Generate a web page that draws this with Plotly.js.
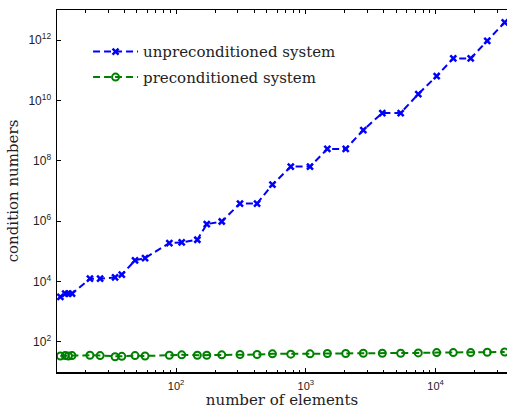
<!DOCTYPE html>
<html>
<head>
<meta charset="utf-8">
<script src="https://cdn.plot.ly/plotly-3.0.1.min.js"></script>
<style>html,body{margin:0;padding:0;background:#fff;}#chart{width:507px;height:409px;}</style>
</head>
<body>
<div id="chart"></div>
<script>
var elements = [12.85, 14.0, 14.8, 15.8, 21.7, 26.0, 33.9, 38.2, 48.3, 57.7, 88.8, 110.6, 145.9, 172.5, 225,
  311, 421, 553, 766, 1077, 1465, 2029, 2772, 3884, 5380, 7355, 10190, 13680, 18630, 24990, 34050];
var unpreconditioned = [3080, 3960, 3960, 3960, 12400, 12400, 13700, 16800, 50000, 60000, 188000, 197000, 242000, 800000, 975000,
  3.85e6, 3.85e6, 1.63e7, 6.44e7, 6.44e7, 2.48e8, 2.48e8, 1.05e9, 3.85e9, 3.85e9, 1.64e10, 6.46e10, 2.48e11, 2.48e11, 9.5e11, 3.9e12];
var preconditioned = [34, 35, 34, 35, 36, 35, 32, 33, 35, 34, 36, 37, 36, 36, 37,
  38, 38, 40, 39, 40, 41, 41, 42, 42, 42, 43, 44, 44, 44, 45, 46];
var seriesNames = ['unpreconditioned system', 'preconditioned system'];
var xMajor = [100, 1000, 10000];
var xMajorText = ['10<sup>2</sup>', '10<sup>3</sup>', '10<sup>4</sup>'];
var yMajor = [1e2, 1e4, 1e6, 1e8, 1e10, 1e12];
var yMajorText = ['10<sup>2</sup>', '10<sup>4</sup>', '10<sup>6</sup>', '10<sup>8</sup>', '10<sup>10</sup>', '10<sup>12</sup>'];

var xMinor = [];
[10, 100, 1000, 10000].forEach(function (d) { for (var k = 2; k <= 9; k++) xMinor.push(k * d); });

var serif = 'DejaVu Serif, Liberation Serif, serif';
var sans = 'Liberation Sans, Arial, sans-serif';

var traces = [
  {x: elements, y: unpreconditioned, name: seriesNames[0], legendgroup: 'a', type: 'scatter', mode: 'lines+markers',
   line: {color: '#0000ff', width: 2, dash: '7px,4px'},
   marker: {symbol: 'x-thin', size: 6, color: '#0000ff', line: {color: '#0000ff', width: 2.5}}},
  {x: elements, y: preconditioned, name: seriesNames[1], legendgroup: 'b', type: 'scatter', mode: 'lines+markers',
   line: {color: '#008000', width: 2, dash: '7px,4px'},
   marker: {symbol: 'circle-open', size: 7, color: '#008000', line: {color: '#008000', width: 2}}}
];

var layout = {
  width: 507, height: 409,
  margin: {l: 57, r: 0, t: 10, b: 37, pad: 0},
  paper_bgcolor: '#fff', plot_bgcolor: '#fff',
  showlegend: true,
  legend: {x: 0.069, y: 0.93, xanchor: 'left', yanchor: 'top', bgcolor: 'rgba(0,0,0,0)',
           traceorder: 'grouped', tracegroupgap: 3,
           font: {family: serif, size: 15, color: '#222'}, itemwidth: 45},
  xaxis: {type: 'log', range: [Math.log10(12.1), 4.55], showgrid: false, zeroline: false,
          showline: true, linecolor: '#000', linewidth: 1.5, mirror: 'ticks',
          ticks: 'inside', ticklen: 4, tickwidth: 1, tickcolor: '#000',
          tickmode: 'array', tickvals: xMajor, ticktext: xMajorText, ticklabelstandoff: 3,
          tickfont: {family: sans, size: 11, color: '#222'},
          minor: {ticks: 'inside', ticklen: 2.5, tickwidth: 1, tickcolor: '#000', tickmode: 'array', tickvals: xMinor},
          title: {text: 'number of elements', font: {family: serif, size: 15, color: '#222'}, standoff: 8}},
  yaxis: {type: 'log', range: [1, 13], showgrid: false, zeroline: false,
          showline: true, linecolor: '#000', linewidth: 1.5, mirror: false,
          ticks: 'inside', ticklen: 4, tickwidth: 1, tickcolor: '#000',
          tickmode: 'array', tickvals: yMajor, ticktext: yMajorText, ticklabelstandoff: 2,
          tickfont: {family: sans, size: 12, color: '#222'},
          title: {text: 'condition numbers', font: {family: serif, size: 15, color: '#222'}, standoff: 6}}
};

Plotly.newPlot('chart', traces, layout, {displayModeBar: false, staticPlot: true});
</script>
</body>
</html>
